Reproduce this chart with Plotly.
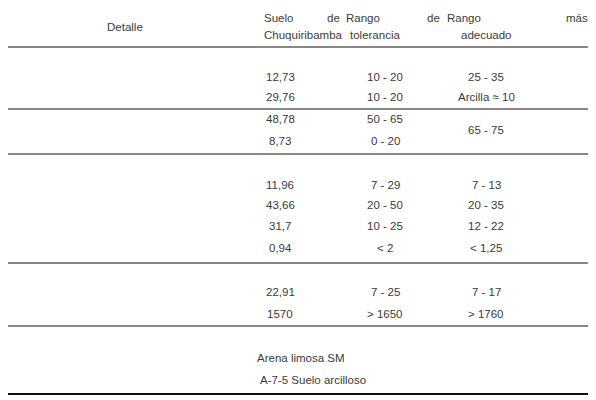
import plotly.graph_objects as go

sections = ["1. Textura evaluada por granulometría",
            "2. Plasticidad evaluada por los límites de consistencia",
            "3. Compresibilidad evaluada por el ensayo de protoctor estandar",
            "4. Clasificación del suelo"]
labels = ["Arcilla %", "Limo %", "Arena %", "Grava %",
          "Índice plástico IP = (LL-LP)", "Límite líquido (LL)", "Límite plástico (LP)",
          "Actividad A = (IP/% mat.> 0,002 mm)",
          "Humedad óptima %", "Densidad seca kg/m3"]
suelo = ["12,73", "29,76", "48,78", "8,73", "11,96", "43,66", "31,7", "0,94", "22,91", "1570"]
tolerancia = ["10 - 20", "10 - 20", "50 - 65", "0 - 20", "7 - 29", "20 - 50", "10 - 25", "< 2", "7 - 25", "> 1650"]
adecuado = ["25 - 35", "Arcilla ≈ 10", "", "", "7 - 13", "20 - 35", "12 - 22", "< 1,25", "7 - 17", "> 1760"]
clas_labels = ["SUCS", "A. A. S. H. O."]
clas_values = ["Arena limosa SM", "A-7-5 Suelo arcilloso"]

row_y = {"s1": 56, "r": [77, 97, 119, 141, 185, 205, 226, 248, 292, 314],
         "s2": 163, "s3": 271, "s4": 336, "c": [358, 380]}
C = "#3a3a3a"
F = dict(family="Liberation Sans, Arial", size=11.5, color=C)
ann = []
def t(x, y, s, anchor="left"):
    ann.append(dict(x=x, y=y, text=s, showarrow=False, xanchor=anchor, yanchor="middle",
                    font=F, xref="x", yref="y"))

t(125, 27, "Detalle", "center")
t(262, 18, "Suelo"); t(342, 18, "de", "right")
t(262, 35, "Chuquiribamba")
t(344, 18, "Rango"); t(442, 18, "de", "right")
t(348, 35, "tolerancia")
t(445, 18, "Rango"); t(590, 18, "más", "right")
t(486, 35, "adecuado", "center")

for s, key in zip(sections, ["s1", "s2", "s3", "s4"]):
    t(5, row_y[key], s)
for i, lab in enumerate(labels):
    y = row_y["r"][i]
    t(5, y, lab)
    t(280, y, suelo[i], "center")
    t(385, y, tolerancia[i], "center")
    if adecuado[i]:
        t(486, y, adecuado[i], "center")
t(486, (row_y["r"][2] + row_y["r"][3]) / 2, "65 - 75", "center")
for i, (l, v) in enumerate(zip(clas_labels, clas_values)):
    t(5, row_y["c"][i], l)
    t(255 + 3 * i, row_y["c"][i], v)

lines = [(7, 2.2), (47, 1.2), (109, 1.2), (154, 1.2), (263, 1.2), (326, 1.2), (394, 2.2)]
shapes = [dict(type="line", x0=3, x1=590, y0=y, y1=y, xref="x", yref="y",
               line=dict(color="#111", width=w)) for y, w in lines]

fig = go.Figure()
fig.update_layout(width=588, height=392, margin=dict(l=0, r=0, t=0, b=0),
                  plot_bgcolor="white", paper_bgcolor="white",
                  xaxis=dict(range=[8, 596], visible=False, fixedrange=True),
                  yaxis=dict(range=[400, 8], visible=False, fixedrange=True),
                  annotations=ann, shapes=shapes, showlegend=False)
fig.write_html("out.html", config={"displayModeBar": False})
